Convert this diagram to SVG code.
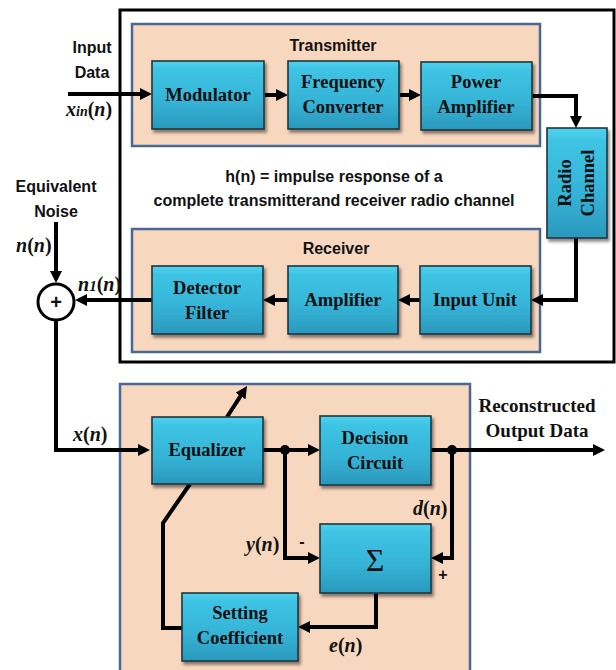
<svg xmlns="http://www.w3.org/2000/svg" width="616" height="670" viewBox="0 0 616 670">
<defs>
<linearGradient id="bg" x1="0" y1="0" x2="0" y2="1">
<stop offset="0" stop-color="#52d2ee"/>
<stop offset="0.12" stop-color="#3ec4e4"/>
<stop offset="0.6" stop-color="#35b3d6"/>
<stop offset="1" stop-color="#2a98bc"/>
</linearGradient>
<filter id="sh" x="-10%" y="-10%" width="125%" height="130%">
<feDropShadow dx="2" dy="3" stdDeviation="1.5" flood-color="#000" flood-opacity="0.45"/>
</filter>
<marker id="ah" markerWidth="12" markerHeight="12" refX="2" refY="6" orient="auto" markerUnits="userSpaceOnUse">
<path d="M0,0 L12,6 L0,12 z" fill="#000"/>
</marker>
</defs>
<style>
.box{fill:url(#bg);stroke:#24343c;stroke-width:1.6;filter:url(#sh)}
.panel{fill:#f8d7bf;stroke:#4a6896;stroke-width:2.5}
.bt{font-family:"Liberation Serif",serif;font-weight:bold;font-size:18.5px;fill:#111;text-anchor:middle}
.lb{font-family:"Liberation Sans",sans-serif;font-weight:bold;font-size:16px;fill:#111;text-anchor:middle}
.ds{font-family:"Liberation Sans",sans-serif;font-weight:bold;font-size:16px;fill:#111;text-anchor:middle}
.m{font-family:"Liberation Serif",serif;font-weight:bold;font-size:20px;fill:#111}
.mi{font-style:italic}
.c{fill:none;stroke:#000;stroke-width:4}
.a{marker-end:url(#ah)}
</style>

<rect id="outer" x="120" y="10" width="494" height="352" fill="#fff" stroke="#000" stroke-width="3"/>

<g id="transmitter">
<rect class="panel" x="132" y="24" width="408" height="122"/>
<text class="lb" x="333" y="51">Transmitter</text>
</g>
<g id="receiver">
<rect class="panel" x="132" y="229" width="408" height="123"/>
<text class="lb" x="336" y="254">Receiver</text>
</g>
<g id="equalizerPanel">
<rect class="panel" x="120" y="384" width="350" height="300"/>
</g>

<g id="description">
<text class="ds" x="334" y="182">h(n) = impulse response of a</text>
<text class="ds" x="334" y="206">complete transmitterand receiver radio channel</text>
</g>

<g id="connectors">
<path class="c a" d="M68,94 H142"/>
<path class="c a" d="M265,95 H278"/>
<path class="c a" d="M400,95 H411"/>
<path class="c a" d="M532,96 H576 V118"/>
<path class="c a" d="M576,238 V300 H541"/>
<path class="c a" d="M420,300 H408"/>
<path class="c a" d="M288,300 H273"/>
<path class="c a" d="M152,300 H85"/>
<path class="c a" d="M56,222 V273"/>
<path class="c a" d="M56,321 V450 H140"/>
<path class="c a" d="M227,417 L241.6,394.4"/>
<path class="c a" d="M263,450 H310"/>
<path class="c a" d="M285,450 V558 H310"/>
<path class="c a" d="M431,450 H595"/>
<path class="c a" d="M452,450 V558 H441"/>
<path class="c a" d="M376,593 V627 H308"/>
<path class="c" d="M190,484 L163,523 V628 H182"/>
<circle cx="285" cy="450" r="5" fill="#000"/>
<circle cx="452" cy="450" r="5" fill="#000"/>
</g>

<g id="modulator">
<rect class="box" x="152" y="61" width="112" height="68"/>
<text class="bt" x="208" y="101">Modulator</text>
</g>
<g id="freqConverter">
<rect class="box" x="288" y="61" width="111" height="68"/>
<text class="bt" x="343" y="88">Frequency</text>
<text class="bt" x="343" y="113">Converter</text>
</g>
<g id="powerAmplifier">
<rect class="box" x="421" y="62" width="111" height="68"/>
<text class="bt" x="476" y="88">Power</text>
<text class="bt" x="476" y="113">Amplifier</text>
</g>
<g id="radioChannel">
<rect class="box" x="547" y="128" width="60" height="110"/>
<text class="bt" transform="translate(571,183) rotate(-90)" x="0" y="0">Radio</text>
<text class="bt" transform="translate(594,183) rotate(-90)" x="0" y="0">Channel</text>
</g>
<g id="inputUnit">
<rect class="box" x="420" y="266" width="111" height="68"/>
<text class="bt" x="475" y="306">Input Unit</text>
</g>
<g id="amplifier">
<rect class="box" x="288" y="266" width="110" height="68"/>
<text class="bt" x="343" y="306">Amplifier</text>
</g>
<g id="detectorFilter">
<rect class="box" x="152" y="266" width="111" height="68"/>
<text class="bt" x="207" y="294">Detector</text>
<text class="bt" x="207" y="319">Filter</text>
</g>
<g id="adder">
<circle cx="56" cy="302" r="18" fill="#fff" stroke="#000" stroke-width="3"/>
<text class="lb" x="56" y="309" style="font-size:20px">+</text>
</g>
<g id="equalizer">
<rect class="box" x="152" y="417" width="111" height="67"/>
<text class="bt" x="207" y="456">Equalizer</text>
</g>
<g id="decisionCircuit">
<rect class="box" x="320" y="416" width="111" height="69"/>
<text class="bt" x="375" y="444">Decision</text>
<text class="bt" x="375" y="469">Circuit</text>
</g>
<g id="sigma">
<rect class="box" x="320" y="524" width="111" height="69"/>
<text class="bt" x="375" y="571" style="font-size:32px;font-weight:normal">Σ</text>
</g>
<g id="settingCoefficient">
<rect class="box" x="182" y="593" width="116" height="68"/>
<text class="bt" x="240" y="619">Setting</text>
<text class="bt" x="240" y="644">Coefficient</text>
</g>

<g id="labels">
<text class="lb" x="92" y="53">Input</text>
<text class="lb" x="92" y="78">Data</text>
<text class="m" x="66" y="116"><tspan class="mi">x</tspan><tspan class="mi" style="font-size:14px">in</tspan>(<tspan class="mi">n</tspan>)</text>
<text class="lb" x="56" y="192">Equivalent</text>
<text class="lb" x="56" y="217">Noise</text>
<text class="m" x="16" y="252"><tspan class="mi">n</tspan>(<tspan class="mi">n</tspan>)</text>
<text class="m" x="78" y="291"><tspan class="mi">n</tspan><tspan class="mi" style="font-size:15px">1</tspan>(<tspan class="mi">n</tspan>)</text>
<text class="m" x="73" y="441"><tspan class="mi">x</tspan>(<tspan class="mi">n</tspan>)</text>
<text class="m" x="246" y="551"><tspan class="mi">y</tspan>(<tspan class="mi">n</tspan>)</text>
<text class="lb" x="302" y="547">-</text>
<text class="m" x="413" y="515"><tspan class="mi">d</tspan>(<tspan class="mi">n</tspan>)</text>
<text class="lb" x="443" y="580">+</text>
<text class="m" x="329" y="652"><tspan class="mi">e</tspan>(<tspan class="mi">n</tspan>)</text>
<text class="bt" x="537" y="412" style="font-size:19px">Reconstructed</text>
<text class="bt" x="537" y="437" style="font-size:19px">Output Data</text>
</g>
</svg>
